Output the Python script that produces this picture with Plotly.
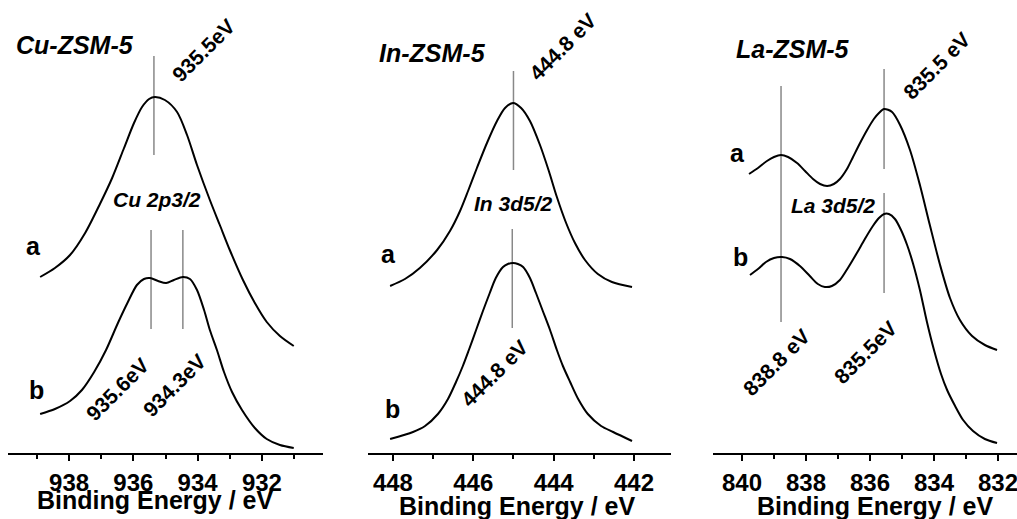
import plotly.graph_objects as go

# ---------------- data (binding energy in eV, intensity in a.u.) ----------------
cu_x_a = [938.90, 938.44, 937.97, 937.50, 937.04, 936.66, 936.29, 935.98, 935.73, 935.51,
          935.33, 935.02, 934.64, 934.33, 934.02, 933.62, 933.31, 933.00, 932.59, 932.22,
          931.85, 931.44, 931.01]
cu_y_a = [1.76, 1.85, 1.98, 2.20, 2.49, 2.75, 3.05, 3.30, 3.46, 3.54,
          3.56, 3.53, 3.41, 3.18, 2.88, 2.53, 2.28, 2.03, 1.73, 1.50,
          1.31, 1.17, 1.07]
cu_x_b = [938.90, 938.44, 937.97, 937.60, 937.22, 936.85, 936.48, 936.17, 935.89, 935.67,
          935.48, 935.23, 934.98, 934.74, 934.46, 934.24, 934.02, 933.80, 933.62, 933.40,
          933.18, 932.93, 932.62, 932.22, 931.85, 931.44, 931.01]
cu_y_b = [0.39, 0.44, 0.52, 0.63, 0.81, 1.03, 1.30, 1.51, 1.68, 1.74,
          1.75, 1.72, 1.70, 1.73, 1.76, 1.74, 1.63, 1.43, 1.23, 1.03,
          0.81, 0.61, 0.43, 0.25, 0.14, 0.08, 0.05]

in_x_a = [448.07, 447.70, 447.33, 446.90, 446.58, 446.33, 446.13, 445.91, 445.66, 445.41,
          445.21, 445.01, 444.81, 444.59, 444.34, 444.12, 443.92, 443.69, 443.47, 443.22,
          442.90, 442.55, 442.05]
in_y_a = [1.67, 1.74, 1.85, 2.03, 2.22, 2.42, 2.62, 2.85, 3.10, 3.32,
          3.45, 3.50, 3.45, 3.32, 3.08, 2.82, 2.56, 2.30, 2.10, 1.93,
          1.79, 1.71, 1.66]
in_x_b = [448.07, 447.50, 447.20, 446.88, 446.63, 446.43, 446.26, 446.11, 445.93, 445.76,
          445.59, 445.44, 445.26, 445.14, 445.01, 444.89, 444.76, 444.59, 444.44, 444.27,
          444.09, 443.92, 443.77, 443.59, 443.39, 443.15, 442.82, 442.52, 442.05]
in_y_b = [0.14, 0.21, 0.27, 0.39, 0.54, 0.71, 0.87, 1.03, 1.23, 1.42,
          1.60, 1.75, 1.86, 1.89, 1.90, 1.89, 1.86, 1.75, 1.60, 1.42,
          1.23, 1.03, 0.87, 0.71, 0.54, 0.39, 0.27, 0.21, 0.12]

la_x_a = [839.78, 839.50, 839.22, 839.00, 838.78, 838.56, 838.28, 838.03, 837.78, 837.56,
          837.34, 837.13, 836.94, 836.72, 836.53, 836.31, 836.09, 835.88, 835.72, 835.56,
          835.31, 835.06, 834.75, 834.44, 834.13, 833.81, 833.50, 833.19, 832.81, 832.41,
          832.03]
la_y_a = [2.79, 2.85, 2.92, 2.96, 2.98, 2.96, 2.90, 2.82, 2.74, 2.69,
          2.67, 2.69, 2.74, 2.84, 2.96, 3.10, 3.23, 3.34, 3.40, 3.44,
          3.41, 3.28, 3.03, 2.68, 2.28, 1.88, 1.55, 1.33, 1.17, 1.08,
          1.03]
la_x_b = [839.75, 839.50, 839.25, 839.00, 838.75, 838.50, 838.19, 837.88, 837.63, 837.41,
          837.19, 836.94, 836.69, 836.41, 836.16, 835.91, 835.72, 835.56, 835.41, 835.22,
          835.03, 834.84, 834.66, 834.44, 834.22, 834.00, 833.78, 833.59, 833.34, 833.09,
          832.78, 832.41, 832.03]
la_y_b = [1.78, 1.84, 1.91, 1.95, 1.96, 1.94, 1.87, 1.77, 1.69, 1.66,
          1.67, 1.73, 1.85, 2.00, 2.14, 2.27, 2.35, 2.39, 2.39, 2.34,
          2.23, 2.08, 1.90, 1.63, 1.31, 1.03, 0.79, 0.63, 0.47, 0.33,
          0.22, 0.14, 0.10]

# reference (peak-position) lines: axis, energy, y from, y to
ref_lines = [
    ("x", 935.36, 2.98, 3.97),
    ("x", 935.45, 1.24, 2.23),
    ("x", 934.46, 1.24, 2.23),
    ("x2", 445.00, 2.83, 3.82),
    ("x2", 445.03, 1.25, 2.24),
    ("x3", 838.78, 1.31, 3.67),
    ("x3", 835.56, 2.84, 3.84),
    ("x3", 835.56, 1.60, 2.60),
]

x_ranges = [[939.9, 930.1], [448.62, 441.08], [840.906, 831.406]]
tick0s = [930, 440, 830]

W, H = 1017, 519
BOTTOM = 66
FONT = "Arial, Liberation Sans, sans-serif"

fig = go.Figure()
series = [("x", cu_x_a, cu_y_a), ("x", cu_x_b, cu_y_b),
          ("x2", in_x_a, in_y_a), ("x2", in_x_b, in_y_b),
          ("x3", la_x_a, la_y_a), ("x3", la_x_b, la_y_b)]
for xa, xs, ys in series:
    fig.add_trace(go.Scatter(x=xs, y=ys, xaxis=xa, yaxis="y", mode="lines",
                             line=dict(color="black", width=2, shape="spline", smoothing=0.8),
                             showlegend=False, hoverinfo="skip"))

for ax, xv, y0, y1 in ref_lines:
    fig.add_shape(type="line", xref=ax, yref="y", x0=xv, x1=xv, y0=y0, y1=y1,
                  line=dict(color="#888888", width=1.5), layer="below")

def px(x):
    return x / W

def py(y):
    return (H - BOTTOM - y) / (H - BOTTOM)

annos = [
    # text, x, y, size, angle
    ("<b><i>Cu-ZSM-5</i></b>", 75, 45, 25, 0),
    ("<b><i>In-ZSM-5</i></b>", 432, 53, 25, 0),
    ("<b><i>La-ZSM-5</i></b>", 793, 49, 25, 0),
    ("<b>935.5eV</b>", 203, 50, 21, -45),
    ("<b><i>Cu 2p3/2</i></b>", 157, 199, 21, 0),
    ("<b>a</b>", 33, 246, 25, 0),
    ("<b>b</b>", 36, 390, 25, 0),
    ("<b>935.6eV</b>", 117, 389, 21, -45),
    ("<b>934.3eV</b>", 174, 385, 21, -45),
    ("<b>444.8 eV</b>", 563, 47, 21, -45),
    ("<b><i>In 3d5/2</i></b>", 513, 204, 21, 0),
    ("<b>a</b>", 388, 254, 25, 0),
    ("<b>b</b>", 392, 409, 25, 0),
    ("<b>444.8 eV</b>", 494, 373, 21, -45),
    ("<b>835.5 eV</b>", 937, 66, 21, -45),
    ("<b><i>La 3d5/2</i></b>", 833, 205, 21, 0),
    ("<b>a</b>", 737, 153, 25, 0),
    ("<b>b</b>", 740, 257, 25, 0),
    ("<b>838.8 eV</b>", 776, 362, 21, -45),
    ("<b>835.5eV</b>", 865, 352, 21, -45),
    ("<b>Binding Energy / eV</b>", 155, 500, 25, 0),
    ("<b>Binding Energy / eV</b>", 517, 506, 25, 0),
    ("<b>Binding Energy / eV</b>", 875, 506, 25, 0),
]
for t, x, y, s, a in annos:
    fig.add_annotation(text=t, x=px(x), y=py(y), xref="paper", yref="paper",
                       showarrow=False, textangle=a, xanchor="center", yanchor="middle",
                       font=dict(family=FONT, size=s, color="black"))

domains = [[8 / W, 323 / W], [368 / W, 671 / W], [713 / W, 1.0]]
axis_common = dict(showline=True, linecolor="black", linewidth=2, ticks="outside",
                   ticklen=6, tickwidth=1.5, tickcolor="black", showgrid=False, zeroline=False,
                   dtick=2, ticklabelstandoff=1, ticklabeloverflow="allow",
                   tickfont=dict(family=FONT, size=24, color="black", weight="bold"),
                   minor=dict(dtick=1, ticks="outside", ticklen=4, tickwidth=1.5,
                              tickcolor="black", showgrid=False),
                   anchor="y", fixedrange=True)
layout_axes = {}
for i, name in enumerate(["xaxis", "xaxis2", "xaxis3"]):
    d = dict(axis_common)
    d["domain"] = domains[i]
    d["range"] = x_ranges[i]
    d["tick0"] = tick0s[i]
    layout_axes[name] = d

fig.update_layout(
    width=W, height=H,
    margin=dict(l=0, r=0, t=0, b=BOTTOM, pad=0),
    paper_bgcolor="white", plot_bgcolor="white",
    yaxis=dict(range=[0, 4.53], visible=False, fixedrange=True),
    **layout_axes,
)

fig.write_html("out.html")
